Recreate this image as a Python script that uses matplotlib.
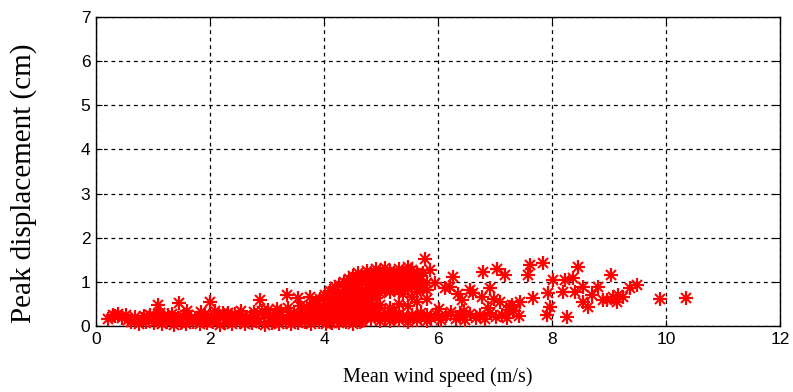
import matplotlib
matplotlib.use("Agg")
import matplotlib.pyplot as plt

# Low band of points (light winds)
band_low_x = [0.62, 0.75, 0.88, 1.02, 1.15, 1.24, 1.37, 1.49, 1.58, 1.71,
              1.83, 1.95, 2.06, 2.18, 2.27, 2.39, 2.52, 2.61, 2.74, 2.86,
              2.97, 3.08, 3.21, 3.33, 3.42, 3.55, 3.67, 3.78, 3.91, 4.03,
              4.14, 4.27, 4.38, 4.51, 4.63]
band_low_y = [0.08, 0.05, 0.10, 0.06, 0.04, 0.09, 0.03, 0.07, 0.05, 0.10,
              0.04, 0.06, 0.08, 0.03, 0.07, 0.05, 0.09, 0.04, 0.06, 0.08,
              0.03, 0.07, 0.05, 0.09, 0.04, 0.06, 0.10, 0.05, 0.08, 0.04,
              0.07, 0.06, 0.09, 0.05, 0.08]

band_mid_x = [0.21, 0.33, 0.45, 0.57, 0.69, 0.81, 0.93, 1.06, 1.18, 1.29,
              1.41, 1.53, 1.66, 1.77, 1.89, 2.01, 2.12, 2.24, 2.36, 2.47,
              2.58, 2.71, 2.82, 2.94, 3.05, 3.17, 3.28, 3.39, 3.51, 3.62,
              3.74, 3.85, 3.97, 4.08, 4.21, 4.33]
band_mid_y = [0.15, 0.22, 0.18, 0.14, 0.20, 0.16, 0.13, 0.21, 0.17, 0.19,
              0.15, 0.23, 0.18, 0.14, 0.21, 0.19, 0.16, 0.24, 0.18, 0.15,
              0.22, 0.20, 0.17, 0.25, 0.19, 0.23, 0.18, 0.26, 0.21, 0.24,
              0.28, 0.22, 0.30, 0.26, 0.33, 0.29]

band_fill_x = [0.95, 1.10, 1.27, 1.44, 1.60, 1.76, 1.92, 2.10, 2.22, 2.33,
               2.44, 2.63, 2.79, 2.91, 3.12, 3.25, 3.47, 3.60, 3.81, 3.95,
               4.10, 4.24, 4.45, 4.57]
band_fill_y = [0.26, 0.12, 0.24, 0.17, 0.33, 0.13, 0.27, 0.16, 0.30, 0.11,
               0.27, 0.13, 0.24, 0.35, 0.12, 0.31, 0.29, 0.14, 0.20, 0.17,
               0.22, 0.16, 0.18, 0.14]

band_top_x = [0.38, 0.52, 0.84, 1.12, 1.33, 1.62, 1.85, 2.08, 2.31, 2.55,
              2.77, 3.02, 3.18, 3.36, 3.58, 3.71, 3.88]
band_top_y = [0.27, 0.24, 0.22, 0.30, 0.28, 0.26, 0.31, 0.33, 0.29, 0.34,
              0.32, 0.36, 0.38, 0.41, 0.45, 0.43, 0.50]

spike_x = [0.30, 1.09, 1.46, 2.00, 2.88, 3.35, 3.54, 3.75]
spike_y = [0.25, 0.48, 0.52, 0.54, 0.58, 0.70, 0.63, 0.66]

# Dense cloud between 3.8 and 5.8 m/s, one column per wind speed
cloud_x = [3.82, 3.93, 4.02, 4.11, 4.19, 4.27, 4.35, 4.43, 4.51, 4.59,
           4.67, 4.75, 4.83, 4.91, 4.99, 5.07, 5.15, 5.23, 5.31, 5.39,
           5.47, 5.55, 5.63, 5.71, 5.77, 5.80]
cloud_y = [
    [0.38, 0.52],
    [0.30, 0.45, 0.62],
    [0.22, 0.36, 0.50, 0.71],
    [0.15, 0.28, 0.42, 0.58, 0.80],
    [0.34, 0.49, 0.66, 0.88],
    [0.20, 0.41, 0.57, 0.74, 0.92],
    [0.13, 0.30, 0.48, 0.63, 0.81, 1.00],
    [0.24, 0.39, 0.55, 0.70, 0.89, 1.07],
    [0.17, 0.33, 0.46, 0.61, 0.78, 0.95, 1.14],
    [0.27, 0.42, 0.58, 0.72, 0.86, 1.03, 1.19],
    [0.12, 0.36, 0.51, 0.66, 0.82, 0.98, 1.12],
    [0.22, 0.45, 0.60, 0.77, 0.92, 1.08, 1.24],
    [0.15, 0.31, 0.53, 0.70, 0.86, 1.01, 1.18],
    [0.26, 0.41, 0.64, 0.80, 0.95, 1.12, 1.29],
    [0.11, 0.20, 0.48, 0.74, 0.89, 1.05, 1.22],
    [0.17, 0.29, 0.83, 0.98, 1.15, 1.31],
    [0.12, 0.24, 0.41, 0.76, 0.92, 1.08, 1.25],
    [0.20, 0.34, 0.87, 1.02, 1.19],
    [0.14, 0.27, 0.50, 0.80, 0.96, 1.12, 1.28],
    [0.22, 0.72, 0.90, 1.06, 1.22],
    [0.10, 0.18, 0.45, 0.84, 1.00, 1.16, 1.33],
    [0.25, 0.66, 0.93, 1.09, 1.26],
    [0.13, 0.21, 0.55, 0.78, 1.03, 1.19],
    [0.17, 0.30, 0.88, 1.13],
    [1.52],
    [0.12, 0.24, 0.62, 0.97],
]

# Scattered points at higher wind speeds
tail_x = [5.88, 5.97, 6.05, 6.14, 6.22, 6.31, 6.39, 6.48, 6.57, 6.66,
          6.74, 6.83, 6.92, 7.01, 7.12, 7.21, 7.33, 7.42, 6.02, 6.45,
          6.88, 7.27]
tail_y = [0.18, 0.27, 0.14, 0.22, 0.31, 0.16, 0.24, 0.13, 0.28, 0.19,
          0.25, 0.15, 0.30, 0.21, 0.26, 0.17, 0.33, 0.23, 0.38, 0.35,
          0.40, 0.42]

sparse_x = [5.86, 5.74, 5.95, 5.80, 6.26, 6.21, 6.12, 6.56, 6.61, 6.42,
            6.79, 6.91, 6.77, 7.04, 7.18, 7.09, 7.23, 7.44, 7.61, 7.58,
            7.67, 7.84, 7.93, 7.91, 8.02, 7.96, 8.23, 8.19, 8.26, 8.37,
            8.46, 8.40, 8.54, 8.54, 8.63, 8.70, 8.81, 8.90, 9.03, 9.07,
            9.16, 9.25, 9.37, 9.49, 9.89, 10.35, 9.14, 8.96, 6.35, 6.98,
            7.30]
sparse_y = [1.27, 1.20, 0.97, 0.82, 1.11, 0.89, 0.86, 0.82, 0.74, 0.59,
            1.22, 0.86, 0.66, 1.29, 1.16, 0.54, 0.36, 0.55, 1.38, 1.16,
            0.63, 1.43, 0.74, 0.25, 1.04, 0.44, 1.04, 0.78, 0.21, 1.08,
            1.34, 0.78, 0.89, 0.55, 0.44, 0.70, 0.89, 0.59, 1.16, 0.66,
            0.70, 0.66, 0.86, 0.93, 0.61, 0.63, 0.54, 0.59, 0.72, 0.62,
            0.48]

x_ticks = [0, 2, 4, 6, 8, 10, 12]
y_ticks = [0, 1, 2, 3, 4, 5, 6, 7]

# Combine groups
xs = (band_low_x + band_mid_x + band_fill_x + band_top_x + spike_x
      + tail_x + sparse_x)
ys = (band_low_y + band_mid_y + band_fill_y + band_top_y + spike_y
      + tail_y + sparse_y)
for cx, col in zip(cloud_x, cloud_y):
    xs += [cx] * len(col)
    ys += col

fig = plt.figure(figsize=(7.93, 3.92), dpi=100)
ax = fig.add_axes([96 / 793, 1 - 326 / 392, 684 / 793, 309 / 392])

# MATLAB-style asterisk: a plus with a shorter cross on top
ax.plot(xs, ys, linestyle="none", marker="+", color="red",
        markersize=10.5, markeredgewidth=1.6, clip_on=False, zorder=3)
ax.plot(xs, ys, linestyle="none", marker="x", color="red",
        markersize=7, markeredgewidth=1.5, clip_on=False, zorder=3)

ax.set_xlim(0, 12)
ax.set_ylim(0, 7)
ax.set_xticks(x_ticks)
ax.set_yticks(y_ticks)
ax.grid(True, color="black", linestyle=(0, (3, 3)), linewidth=0.9)
ax.tick_params(direction="in", top=True, right=True, length=4,
               labelsize=12.5, pad=4)
for lab in ax.get_xticklabels() + ax.get_yticklabels():
    lab.set_family("Liberation Sans")
for s in ax.spines.values():
    s.set_linewidth(1.0)

ax.set_xlabel("Mean wind speed (m/s)", family="Liberation Serif",
              fontsize=14.5)
ax.set_ylabel("Peak displacement (cm)", family="Liberation Serif",
              fontsize=21)
ax.xaxis.set_label_coords(0.5, -0.135)
ax.yaxis.set_label_coords(-0.086, 0.463)

fig.savefig("out.png", dpi=100)
